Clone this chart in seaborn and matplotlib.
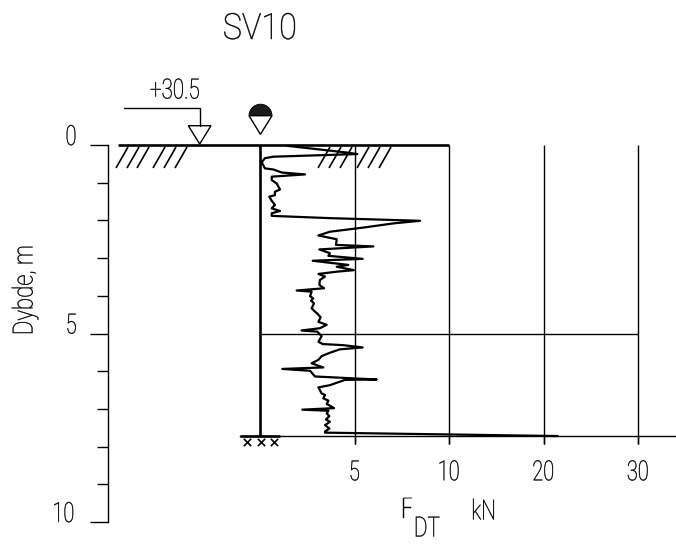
import numpy as np
import pandas as pd
import matplotlib
matplotlib.use("Agg")
import matplotlib.pyplot as plt
from matplotlib.patches import Polygon, Wedge
from matplotlib.patheffects import AbstractPathEffect
from matplotlib.transforms import Affine2D
import seaborn as sns

force_kn = [1.41,4.59,5.15,0.71,0.26,0.09,0.26,0.71,1.15,2.38,0.62,0.62,0.88,1.06,0.79,0.79,0.49,0.62,0.79,0.62,1.06,0.62,0.62,
            3.70,8.47,7.05,5.47,3.70,3.09,4.06,4.02,6.00,3.14,3.70,3.62,5.43,2.79,3.62,4.67,4.06,4.97,4.06,3.09,3.44,3.17,3.14,3.39,
            1.94,2.73,2.65,2.82,2.70,2.86,2.73,2.91,3.03,3.21,3.09,3.53,3.17,2.20,3.03,3.26,3.09,3.32,4.41,5.43,4.23,3.70,3.26,3.09,2.73,3.35,1.18,2.65,
            2.91,6.17,4.50,3.70,3.09,3.26,3.44,3.35,3.62,3.53,3.79,3.92,2.24,3.62,3.53,3.67,3.49,3.70,3.44,3.67,3.44,3.44,21.5]
depth_m = [0.02,0.20,0.24,0.31,0.35,0.46,0.62,0.65,0.73,0.78,0.84,0.93,1.02,1.18,1.24,1.33,1.37,1.48,1.59,1.68,1.75,1.81,1.88,
           1.94,2.01,2.08,2.19,2.30,2.40,2.50,2.65,2.69,2.77,2.87,2.94,3.02,3.07,3.12,3.18,3.23,3.32,3.36,3.42,3.49,3.58,3.71,3.80,
           3.86,3.89,4.01,4.07,4.13,4.20,4.33,4.42,4.47,4.57,4.69,4.77,4.86,4.92,4.95,5.07,5.22,5.28,5.31,5.37,5.42,5.51,5.60,5.70,5.79,5.90,5.94,5.99,
           6.14,6.22,6.23,6.37,6.43,6.59,6.63,6.72,6.78,6.87,6.94,6.98,7.02,7.05,7.12,7.19,7.28,7.34,7.43,7.52,7.60,7.63,7.72]
force_ticks = [5, 10, 20, 30]
depth_major = [0, 5, 10]
depth_minor = [1, 2, 3, 4, 6, 7, 8, 9]
stop_depth = 7.72
title = "SV10"
level_label = "+30.5"

W, H = 676, 546
sns.set_theme(style="white")
plt.rcParams['font.family'] = ['Roboto', 'Liberation Sans', 'DejaVu Sans']
plt.rcParams['font.weight'] = 'light'
px = 0.72


class Squeeze(AbstractPathEffect):
    """Narrow the glyph outlines of a text along its own direction, with a fine outline."""

    def __init__(self, factor, stroke=0.3):
        super().__init__()
        self.factor = factor
        self.stroke = stroke

    def draw_path(self, renderer, gc, tpath, affine, rgbFace=None):
        xs = tpath.vertices[:, 0]
        cx = (xs.min() + xs.max()) / 2 if len(xs) else 0
        squeezed = Affine2D().translate(-cx, 0).scale(self.factor, 1).translate(cx, 0) + affine
        gc0 = renderer.new_gc()
        gc0.copy_properties(gc)
        gc0.set_linewidth(self.stroke)
        renderer.draw_path(gc0, tpath, squeezed, rgbFace)
        gc0.restore()


def fwd(f):
    f = np.asarray(f, dtype=float)
    return np.where(f <= 10, 18.9 * f, 189 + 9.45 * (f - 10))


def inv(p):
    p = np.asarray(p, dtype=float)
    return np.where(p <= 189, p / 18.9, 10 + (p - 189) / 9.45)


fig = plt.figure(figsize=(W / 100, H / 100), dpi=100, facecolor="white")
ax = fig.add_axes([0, 0, 1, 1])
ax.patch.set_alpha(0)
ax.set_xscale("function", functions=(fwd, inv))
ax.set_xlim(float(inv(-260)), float(inv(W - 260)))
ax.set_ylim((H - 145) / 37.7, -145 / 37.7)

df = pd.DataFrame({"force": force_kn, "depth": depth_m})
sns.lineplot(data=df, x="force", y="depth", sort=False, estimator=None, color="black", lw=1.6, ax=ax)
ax.set_xlabel("")
ax.set_ylabel("")

for s in ("top", "right"):
    ax.spines[s].set_visible(False)
ax.spines["left"].set_position(("data", float(inv(108 - 260))))
ax.spines["left"].set_bounds(0, 10)
ax.spines["left"].set_linewidth(1.0)
ax.spines["left"].set_color("black")
ax.spines["bottom"].set_position(("data", stop_depth))
ax.spines["bottom"].set_bounds(float(inv(240 - 260)), float(inv(675 - 260)))
ax.spines["bottom"].set_linewidth(1.0)
ax.spines["bottom"].set_color("black")

ax.set_yticks(depth_major)
ax.set_yticks(depth_minor, minor=True)
ax.set_yticklabels([str(v) for v in depth_major], fontsize=20, va="baseline", color="black")
ax.tick_params(axis="y", which="major", direction="out", length=18 * px, width=1.0, pad=8, left=True, color="black")
ax.tick_params(axis="y", which="minor", direction="out", length=11 * px, width=1.0, left=True, color="black")
ax.set_xticks(force_ticks)
ax.set_xticklabels([str(v) for v in force_ticks], fontsize=20, color="black")
ax.xaxis.set_minor_locator(matplotlib.ticker.NullLocator())
ax.tick_params(axis="x", which="major", direction="out", length=8 * px, width=1.0, pad=11, bottom=True, color="black")
for lab in ax.get_xticklabels() + ax.get_yticklabels():
    lab.set_path_effects([Squeeze(0.72)])

ax.vlines(force_ticks, 0, stop_depth + 8 / 37.7, color="black", lw=1.0)
ax.vlines(0, 0, stop_depth, color="black", lw=1.9)
ax.hlines(5, 0, 30, color="black", lw=1.0)
ax.hlines(0, float(inv(118 - 260)), 10, color="black", lw=1.9)
ax.hlines(stop_depth, float(inv(240 - 260)), float(inv(280 - 260)), color="black", lw=1.9)

ov = fig.add_axes([0, 0, 1, 1])
ov.set_xlim(0, W)
ov.set_ylim(H, 0)
ov.axis("off")
ov.patch.set_alpha(0)

for x0 in (116, 127, 137, 153, 164, 175, 318, 329, 340, 357, 368, 379):
    ov.plot([x0, x0 + 12], [168, 147], color="black", lw=1.2, solid_capstyle="butt")

ov.plot([124, 199.7, 199.7], [107.7, 107.7, 125.7], color="black", lw=1.0)
ov.add_patch(Polygon([(188.3, 125.7), (211, 125.7), (199.7, 144)], closed=True, fc="white", ec="black", lw=1.0))
ov.add_patch(Wedge((260.5, 115.7), 11.5, 180, 360, fc="#1a1a1a", ec="black", lw=0.6))
ov.add_patch(Polygon([(249, 115.7), (272, 115.7), (260.4, 134.3)], closed=True, fc="white", ec="black", lw=1.0))
ov.scatter([246.7, 260.7, 274.3], [442, 442, 442], marker="x", s=28, color="black", linewidths=1.2)

for txt, x, y, size, rot, k in [
    (title, 260, 29, 26, 0, 0.9),
    (level_label, 175, 91, 20, 0, 0.74),
    ("Dybde, m", 25, 290, 20, 90, 0.8),
    ("F", 407, 510, 20, 0, 0.75),
    ("DT", 427, 529, 20, 0, 0.75),
    ("kN", 484, 512, 20, 0, 0.75),
]:
    t = ov.text(x, y, txt, fontsize=size, rotation=rot, ha="center", va="center", color="black")
    t.set_path_effects([Squeeze(k)])

fig.savefig("out.png", dpi=100, facecolor="white")
